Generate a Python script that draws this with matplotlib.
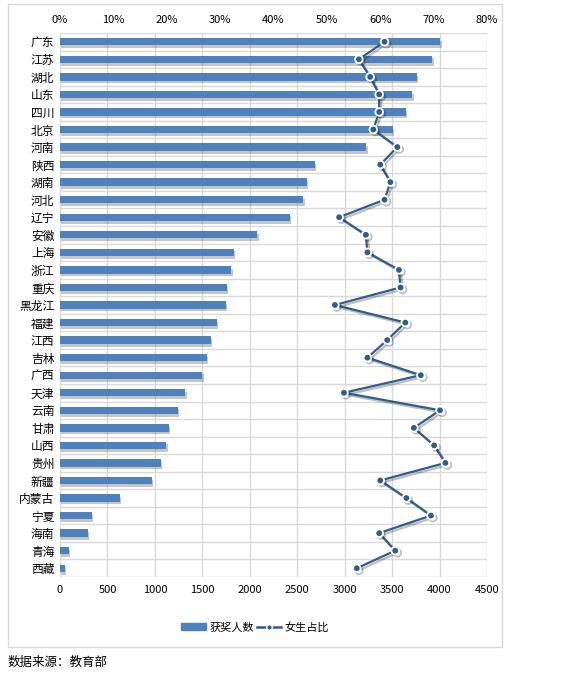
import numpy as np
import matplotlib.pyplot as plt
import matplotlib.patheffects as pe
from matplotlib.patches import Rectangle
from matplotlib.lines import Line2D
from matplotlib.ticker import FuncFormatter

plt.rcParams['font.family'] = ['Noto Sans CJK SC', 'DejaVu Sans']

# data
provinces = ['广东', '江苏', '湖北', '山东', '四川', '北京', '河南', '陕西', '湖南', '河北',
             '辽宁', '安徽', '上海', '浙江', '重庆', '黑龙江', '福建', '江西', '吉林', '广西',
             '天津', '云南', '甘肃', '山西', '贵州', '新疆', '内蒙古', '宁夏', '海南', '青海', '西藏']
winners = [4008, 3924, 3762, 3713, 3646, 3506, 3228, 2687, 2603, 2564,
           2424, 2080, 1834, 1806, 1756, 1749, 1655, 1588, 1549, 1500,
           1321, 1244, 1149, 1121, 1064, 970, 629, 334, 295, 95, 49]
female_share = [60.8, 56.0, 58.1, 59.8, 59.8, 58.7, 63.2, 60.0, 61.9, 60.8,
                52.3, 57.3, 57.6, 63.5, 63.8, 51.5, 64.7, 61.3, 57.6, 67.6,
                53.2, 71.2, 66.3, 70.1, 72.2, 60.0, 64.9, 69.5, 59.8, 62.8, 55.6]

bar_color = '#4F81BD'
line_color = '#2F5D8C'
grid_color = '#D9D9D9'

fig = plt.figure(figsize=(5.8, 6.8), dpi=100)
fig.patches.append(Rectangle((8 / 580, 1 - 647 / 680), 494 / 580, 643 / 680,
                             transform=fig.transFigure, fill=False,
                             edgecolor='#D9D9D9', linewidth=1))

ax = fig.add_axes([60 / 580, 1 - 577 / 680, 427 / 580, 544 / 680])
y = np.arange(len(provinces))

bars = ax.barh(y, winners, height=0.42, color=bar_color, zorder=3)
for b in bars:
    b.set_path_effects([pe.SimplePatchShadow(offset=(1, -2), shadow_rgbFace='#808080', alpha=0.45),
                        pe.Normal()])

ax.set_xlim(0, 4500)
ax.set_xticks(np.arange(0, 4501, 500))
ax.set_ylim(len(provinces) - 0.5, -0.5)
ax.set_yticks(y)
ax.set_yticklabels(provinces, fontsize=8.5)
ax.set_yticks(np.arange(-0.5, len(provinces), 1), minor=True)
ax.tick_params(axis='y', which='both', length=0, pad=4)
ax.tick_params(axis='x', length=0, labelsize=8, pad=6)
ax.grid(axis='x', color=grid_color, linewidth=1, zorder=0)
ax.grid(axis='y', which='minor', color=grid_color, linewidth=1, zorder=0)
for s in ax.spines.values():
    s.set_visible(False)

ax2 = ax.twiny()
ax2.plot(female_share, y, color=line_color, linewidth=1.6, marker='o', markersize=5.5,
         markerfacecolor=line_color, markeredgecolor='white', markeredgewidth=1.3, zorder=4,
         path_effects=[pe.SimpleLineShadow(offset=(1.5, -1.5), alpha=0.25), pe.Normal()])
ax2.set_xlim(0, 80)
ax2.set_xticks(np.arange(0, 81, 10))
ax2.xaxis.set_major_formatter(FuncFormatter(lambda v, p: f'{int(v)}%'))
ax2.tick_params(axis='x', length=0, labelsize=8, pad=6)
for s in ax2.spines.values():
    s.set_visible(False)

handles = [Rectangle((0, 0), 1, 1, color=bar_color),
           Line2D([], [], color=line_color, linewidth=1.8, marker='o', markersize=4,
                  markerfacecolor=line_color, markeredgecolor='white')]
fig.legend(handles, ['获奖人数', '女生占比'], loc='center', bbox_to_anchor=(0.44, 1 - 627 / 680),
           ncol=2, frameon=False, fontsize=8, handlelength=2.2, handleheight=0.6,
           columnspacing=0.3, handletextpad=0.3)

fig.text(8 / 580, 1 - 662 / 680, '数据来源：教育部', fontsize=9, style='italic', va='center')

fig.savefig('out.png', dpi=100)
